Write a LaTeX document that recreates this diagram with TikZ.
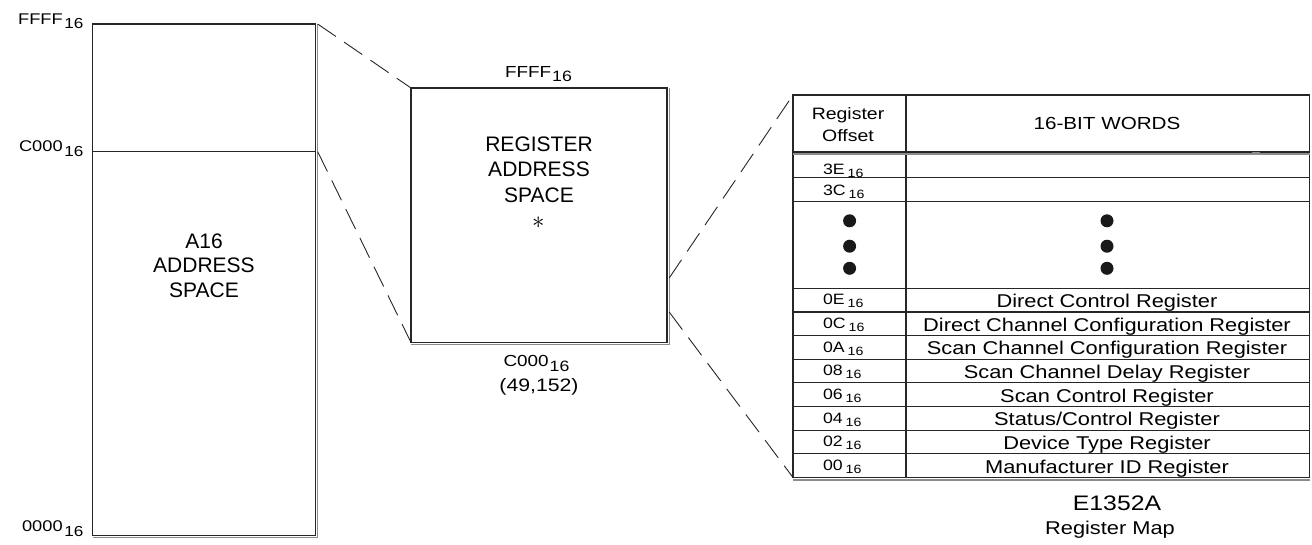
\documentclass[tikz,border=0pt]{standalone}
\usepackage{fontspec}
\setmainfont{Liberation Sans}
\newfontfamily\plainfont{Liberation Sans}
\newfontfamily\widefont{Liberation Sans}[FakeStretch=1.18]
\newcommand{\hexbig}[1]{{\widefont\fontsize{15.5}{16}\selectfont #1}\hspace{1.5pt}\raisebox{-4.5pt}{\widefont\fontsize{14.5}{16}\selectfont 16}}
\newcommand{\hexmid}[1]{{\widefont\fontsize{16}{17}\selectfont #1}\hspace{1pt}\raisebox{-4.5pt}{\widefont\fontsize{15}{16}\selectfont 16}}
\newcommand{\hexrow}[1]{{\widefont\fontsize{15}{16}\selectfont #1}\hspace{3pt}\raisebox{-3pt}{\widefont\fontsize{12}{13}\selectfont 16}}
\tikzset{
  ln/.style={line width=1.1pt, draw=black!85},
  boxln/.style={ln, draw, rectangle, inner sep=0pt, outer sep=0pt},
  shln/.style={line width=1.1pt, draw=black!45},
  dashln/.style={line width=0.9pt, draw=black!85, dash pattern=on 22pt off 10pt},
  txt/.style={inner sep=0pt, outer sep=0pt, anchor=base},
  bigtxt/.style={txt, font=\plainfont\fontsize{21}{24}\selectfont},
  rowtxt/.style={txt, font=\widefont\fontsize{18.5}{20}\selectfont},
  hdrtxt/.style={txt, font=\widefont\fontsize{16.5}{18}\selectfont},
  bigdot/.style={circle, fill=black!90, inner sep=0pt, minimum size=13pt}
}
\begin{document}
\begin{tikzpicture}[x=1pt, y=-1pt]
\useasboundingbox (0,0) rectangle (1312,544);

% ---------------- A16 address space box ----------------
\node[boxln, anchor=north west, minimum width=223pt, minimum height=511.5pt] (abox) at (92.5,24) {};
\draw[shln] ([xshift=2.2pt]abox.north east) -- ([xshift=2.2pt,yshift=-2pt]abox.south east) -- ([yshift=-2pt]abox.south west);
\coordinate (adivW) at (92.5,151.7);
\coordinate (adivE) at (317.7,151.7);
\draw[ln] (adivW) -- (adivW -| abox.east);

\node[txt, anchor=base east] (lffff) at (83.3,24) {\hexbig{FFFF}};
\node[txt, anchor=base east] (lc000) at (83.3,151.7) {\hexbig{C000}};
\node[txt, anchor=base east] (l0000) at (83.3,531.7) {\hexbig{0000}};

\node[bigtxt] (a1) at (204,248.3) {A16};
\node[bigtxt] (a2) at (204,272.7) {ADDRESS};
\node[bigtxt] (a3) at (204,297.3) {SPACE};

% ---------------- Register address space box ----------------
\node[boxln, anchor=north west, minimum width=256pt, minimum height=254.5pt] (rbox) at (411,88) {};
\draw[shln] ([xshift=2.2pt]rbox.north east) -- ([xshift=2.2pt,yshift=-2pt]rbox.south east) -- ([yshift=-2pt]rbox.south west);

\node[txt] (mffff) at (538.5,77.3) {\hexmid{FFFF}};
\node[txt] (mc000) at (536.5,366.7) {\hexmid{C000}};
\node[txt, font=\widefont\fontsize{18}{19}\selectfont] (mdec) at (539,391.7) {(49,152)};

\node[bigtxt] (r1) at (539,151) {REGISTER};
\node[bigtxt] (r2) at (539,176.5) {ADDRESS};
\node[bigtxt] (r3) at (539,202) {SPACE};
\node[inner sep=0pt, font=\fontsize{23}{23}\selectfont] (r4) at (538.3,228) {\raisebox{0pt}[3pt][3pt]{$\ast$}};

% ---------------- Register map table ----------------
\node[boxln, anchor=north west, minimum width=516.5pt, minimum height=382.5pt] (tbl) at (793,95) {};
\coordinate (divtop) at (906,95);
\draw[ln] (divtop) -- (divtop |- tbl.south);
% header double rule
\draw[ln] (793,152) -- (1309.5,152);
\draw[shln] (793,154) -- (1309.5,154);
\draw[line width=2.5pt, draw=black!45] (1252,153) -- (1260,153);
% bottom shadow
\draw[shln] (793,480) -- (1309.5,480);
% upper rows
\draw[ln] (793,177.7) -- (1309.5,177.7);
\draw[ln] (793,201.7) -- (1309.5,201.7);
\draw[ln] (793,288.3) -- (1309.5,288.3);

\node[hdrtxt] (hreg) at (848,119.3) {Register};
\node[hdrtxt] (hoff) at (848,141.7) {Offset};
\node[txt, font=\widefont\fontsize{17.5}{19}\selectfont] (hwords) at (1107,129.5) {16-BIT WORDS};

\node[txt, anchor=base west] (o3E) at (823,174) {\hexrow{3E}};
\node[txt, anchor=base west] (o3C) at (823,195.5) {\hexrow{3C}};

\foreach \yy [count=\n] in {220.8,246.2,268.3} {
  \node[bigdot] (dl\n) at (849.6,\yy) {};
  \node[bigdot] (dr\n) at (1107,\yy) {};
}

\foreach \lab/\txt [count=\k from 0] in {
  0E/{Direct Control Register},
  0C/{Direct Channel Configuration Register},
  0A/{Scan Channel Configuration Register},
  08/{Scan Channel Delay Register},
  06/{Scan Control Register},
  04/{Status/Control Register},
  02/{Device Type Register},
  00/{Manufacturer ID Register}} {
  \pgfmathsetmacro\yb{288.3+23.65*(\k+1)}
  \draw[ln] (793,\yb) -- (1309.5,\yb);
  \node[txt, anchor=base west] (off\lab) at (823,\yb-7) {\hexrow{\lab}};
  \node[rowtxt] (reg\lab) at (1107,\yb-4.5) {\txt};
}

\node[txt, font=\widefont\fontsize{21}{22}\selectfont] (cap1) at (1117,510) {E1352A};
\node[txt, font=\widefont\fontsize{18.5}{20}\selectfont] (cap2) at (1110,534) {Register Map};

% ---------------- dashed zoom connectors ----------------
\coordinate (rup) at (669.2,278);
\coordinate (rlo) at (669.2,312);
\draw[dashln] ([xshift=2.2pt]abox.north east) -- (rbox.north west);
\draw[dashln] (adivE) -- (rbox.south west);
\draw[dashln] (rup) -- (tbl.north west);
\draw[dashln] (rlo) -- (tbl.south west);
\end{tikzpicture}
\end{document}
